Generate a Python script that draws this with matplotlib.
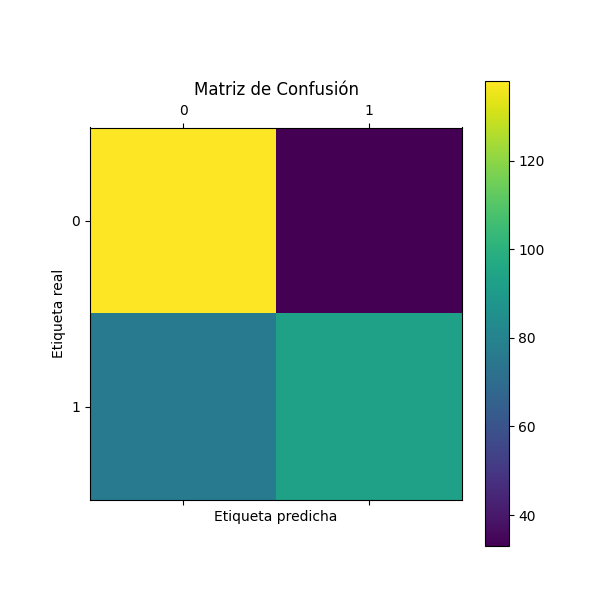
import matplotlib
matplotlib.use('Agg')
import matplotlib.pyplot as plt
import numpy as np

labels = [0, 1]
row0 = [138, 33]
row1 = [76, 93]
cm = np.array([row0, row1])

fig = plt.figure(figsize=(6, 6), dpi=100)
fig.subplots_adjust(left=0.15, right=0.925, bottom=0.09, top=0.865)
ax = fig.add_subplot(111)
im = ax.matshow(cm, cmap='viridis')
fig.colorbar(im)
ax.set_xticks(range(len(labels)))
ax.set_yticks(range(len(labels)))
ax.set_xticklabels(labels)
ax.set_yticklabels(labels)
ax.set_title('Matriz de Confusión')
ax.set_xlabel('Etiqueta predicha')
ax.set_ylabel('Etiqueta real')
plt.savefig('out.png', dpi=100)
